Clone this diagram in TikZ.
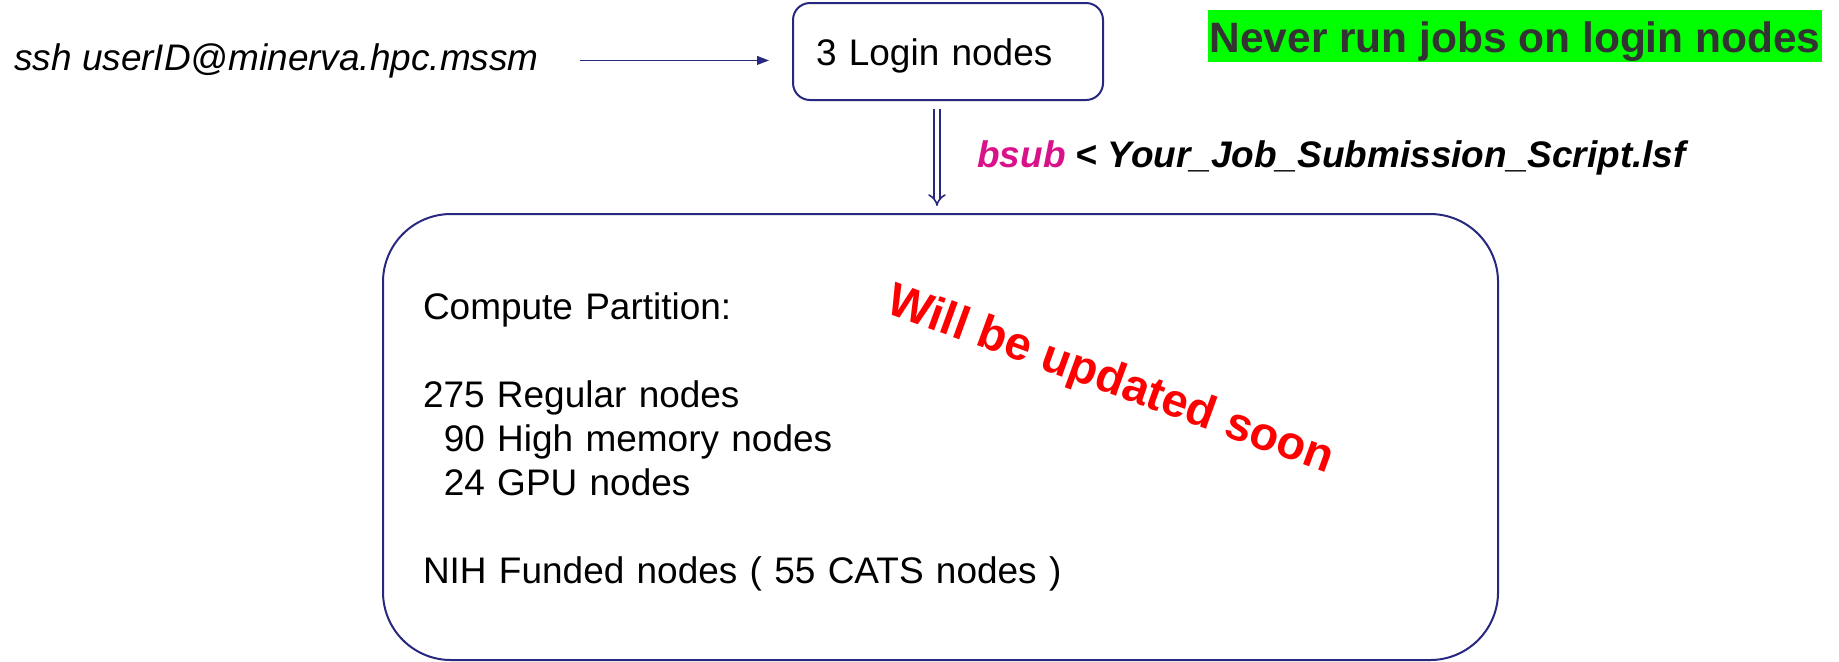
\documentclass[tikz,border=0pt]{standalone}
\usepackage{fontspec}
\setmainfont{Liberation Sans}
\usetikzlibrary{arrows.meta}
\definecolor{navy}{RGB}{40,40,128}
\definecolor{signal}{RGB}{0,255,0}
\definecolor{ink}{RGB}{51,51,51}
\definecolor{bsubpink}{RGB}{218,18,138}
\newcommand{\bodysize}{\fontsize{26.3pt}{31.3pt}\selectfont}
\tikzset{>={Triangle[length=3mm,width=2.2mm]}}
\tikzset{
  rbox/.style = {draw=navy, line width=0.5mm, align=left, font=\bodysize},
  txt/.style = {inner sep=0, anchor=base west, font=\bodysize},
  warn/.style = {fill=signal, text=ink, inner sep=0, anchor=base,
    minimum width=153.5mm, text height=10.5mm, text depth=2.5mm,
    font=\bfseries\fontsize{30.2pt}{36pt}\selectfont},
  link/.style = {navy, line width=0.4mm, ->}
}

\begin{document}
\begin{tikzpicture}[x=0.25mm,y=-0.25mm]
  \useasboundingbox (0,0) rectangle (1839,661);
  \node[txt,font=\itshape\bodysize] (ssh) at (14,70) {ssh userID@minerva.hpc.mssm};
  \node[rbox,rounded corners=4.25mm,anchor=north west,text width=66mm,
        inner xsep=5.75mm,inner ysep=0,text height=15.5mm,text depth=8.75mm]
        (login) at (792,2) {3 Login nodes};
  \node[warn] (never) at (1515,52) {Never run jobs on login nodes};
  \node[txt,font=\bfseries\itshape\bodysize] (bsub) at (977,167)
        {\textcolor{bsubpink}{bsub} < Your\_Job\_Submission\_Script.lsf};
  \node[rbox,rounded corners=17mm,anchor=north west,minimum height=111.5mm,
        text width=258.75mm,inner xsep=10mm] (comp) at (382,213)
        {\rule{0pt}{9.25mm}Compute Partition:\\[31.3pt]
         275 Regular nodes\\
         \hspace*{5.2mm}90 High memory nodes\\
         \hspace*{5.2mm}24 GPU nodes\\[31.3pt]
         NIH Funded nodes ( 55 CATS nodes )};
  \node[txt,text=red,rotate=-20,font=\bfseries\fontsize{33.4pt}{40pt}\selectfont]
        (soon) at (884,312) {Will be updated soon};
  % connectors
  \draw[link,shorten <=10.25mm,shorten >=5.75mm] (ssh.east) -- (ssh.east -| login.west);
  \draw[navy,double,double distance=1.1mm,line width=0.4mm,-{Implies},
        shorten <=2mm,shorten >=1.75mm]
    ([xshift=-2.75mm]login.south) -- ([xshift=-2.75mm]login.south |- comp.north);
\end{tikzpicture}
\end{document}
